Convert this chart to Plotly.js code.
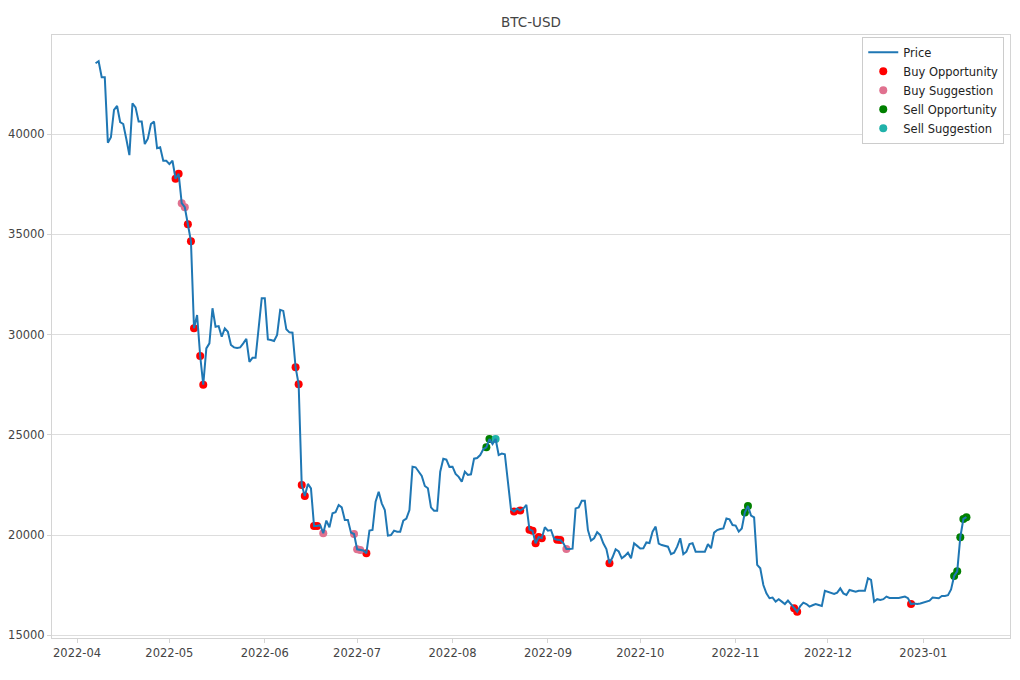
<!DOCTYPE html>
<html>
<head>
<meta charset="utf-8">
<script src="https://cdn.plot.ly/plotly-3.0.1.min.js"></script>
<style>
  html, body { margin: 0; padding: 0; background: #fff; }
  #chart { width: 1020px; height: 680px; }
</style>
</head>
<body>
<div id="chart"></div>
<script>
'use strict';

// daily closes, one value per day starting at startDate
const startDate = '2022-04-07';
const prices = [
  43530, 43630, 42830, 42830, 39570, 39840, 41200, 41400, 40600, 40500,
  39750, 38950, 41530, 41330, 40620, 40620, 39500, 39770, 40500, 40620,
  39290, 39340, 38670, 38670, 38500, 38670, 37770, 38020, 36550, 36350,
  35500, 34650, 30310, 30975, 28930, 27500, 29310, 29560, 31310, 30390,
  30420, 29890, 30310, 30140, 29480, 29360, 29330, 29360, 29560, 29790,
  28640, 28840, 28840, 30310, 31810, 31810, 29760, 29730, 29680, 29980,
  31230, 31180, 30260, 30110, 30090, 28370, 27520, 22500, 21950, 22550,
  22330, 20450, 20450, 20500, 20090, 20720, 20390, 21090, 21140, 21500,
  21380, 20750, 20750, 20120, 20050, 19290, 19250, 19230, 19090, 20220,
  20250, 21660, 22160, 21580, 21250, 19970, 20000, 20220, 20170, 20170,
  20720, 20820, 21250, 23410, 23380, 23160, 22950, 22450, 22330, 21380,
  21210, 21210, 23160, 23800, 23760, 23400, 23410, 23050, 22900, 22660,
  23160, 23000, 23030, 23810, 23840, 23990, 24280, 24380, 24790, 24540,
  24790, 23990, 24060, 24030, 22800, 21280, 21180, 21320, 21220, 21320,
  21500, 20270, 20210, 19590, 19900, 19840, 20390, 20220, 20250, 19820,
  19760, 19750, 19600, 19300, 19300, 19320, 21330, 21380, 21710, 21710,
  20250, 19720, 19840, 20140, 20000, 19590, 19300, 18590, 18890, 19290,
  19180, 18840, 18960, 19120, 18840, 19590, 19460, 19330, 19340, 19630,
  19600, 20170, 20420, 19570, 19500, 19450, 19420, 19050, 19120, 19420,
  19840, 19050, 19170, 19550, 19590, 19170, 19170, 19170, 19170, 19550,
  19340, 20120, 20250, 20300, 20330, 20830, 20780, 20500, 20470, 20170,
  20330, 21130, 21450, 20970, 20880, 18510, 18340, 17510, 17090, 16850,
  16880, 16680, 16800, 16680, 16560, 16730, 16560, 16350, 16180, 16460,
  16630, 16560, 16430, 16500, 16560, 16510, 16460, 17220, 17170, 17090,
  17060, 17130, 17340, 17090, 17010, 17260, 17220, 17170, 17220, 17220,
  17220, 17840, 17760, 16680, 16800, 16760, 16800, 16930, 16860, 16860,
  16860, 16860, 16900, 16930, 16850, 16560, 16590, 16560, 16590, 16650,
  16680, 16730, 16880, 16850, 16850, 16960, 16960, 17000, 17290, 17960,
  18190, 19890, 20800, 20890
];

const buyOpportunity = [
  '2022-05-03', '2022-05-04', '2022-05-07', '2022-05-08', '2022-05-09',
  '2022-05-11', '2022-05-12', '2022-06-11', '2022-06-12', '2022-06-13',
  '2022-06-14', '2022-06-17', '2022-06-18', '2022-07-04', '2022-08-21',
  '2022-08-23', '2022-08-26', '2022-08-27', '2022-08-28', '2022-08-29',
  '2022-08-30', '2022-09-04', '2022-09-05', '2022-09-21', '2022-11-20',
  '2022-11-21', '2022-12-28'
];
const buySuggestion = [
  '2022-05-05', '2022-05-06', '2022-06-20', '2022-06-30', '2022-07-01',
  '2022-07-02', '2022-09-07'
];
const sellOpportunity = [
  '2022-08-12', '2022-08-13', '2022-11-04', '2022-11-05', '2023-01-11',
  '2023-01-12', '2023-01-13', '2023-01-14', '2023-01-15'
];
const sellSuggestion = ['2022-08-15'];

const dates = prices.map((_, i) => {
  const d = new Date(startDate + 'T00:00:00Z');
  d.setUTCDate(d.getUTCDate() + i);
  return d.toISOString().slice(0, 10);
});
const priceOn = day => prices[dates.indexOf(day)];

const markerTrace = (days, name, color, rank) => ({
  x: days,
  y: days.map(priceOn),
  name: name,
  mode: 'markers',
  type: 'scatter',
  legendrank: rank,
  marker: { color: color, size: 8 }
});

const traces = [
  markerTrace(buyOpportunity,  'Buy Opportunity',  '#ff0000', 2),
  markerTrace(buySuggestion,   'Buy Suggestion',   '#e0718f', 3),
  markerTrace(sellOpportunity, 'Sell Opportunity', '#008000', 4),
  markerTrace(sellSuggestion,  'Sell Suggestion',  '#20b2aa', 5),
  {
    x: dates,
    y: prices,
    name: 'Price',
    mode: 'lines',
    type: 'scatter',
    legendrank: 1,
    line: { color: '#1f77b4', width: 2 }
  }
];

const axisGray = '#d4d4d4';

const layout = {
  width: 1020,
  height: 680,
  paper_bgcolor: '#fff',
  plot_bgcolor:  '#fff',
  font: { family: 'DejaVu Sans, sans-serif', size: 11.5, color: '#444' },
  margin: { l: 52, r: 10, t: 35, b: 42 },
  title: {
    text: 'BTC-USD',
    font: { size: 13.5, color: '#444' },
    x: 0.5, xref: 'paper',
    y: 1 - 22 / 680, yref: 'container', yanchor: 'middle'
  },
  showlegend: true,
  legend: {
    x: 0.994, xanchor: 'right',
    y: 0.997, yanchor: 'top',
    bgcolor: '#fff',
    bordercolor: '#cccccc',
    borderwidth: 1,
    font: { size: 11.5, color: '#222' }
  },
  xaxis: {
    type: 'date',
    range: ['2022-03-23 20:24', '2023-01-29 03:36'],
    tick0: '2022-04-01',
    dtick: 'M1',
    tickformat: '%Y-%m',
    showgrid: false,
    zeroline: false,
    showline: true, mirror: true, linecolor: axisGray, linewidth: 1,
    ticks: 'outside', ticklen: 4, tickcolor: axisGray
  },
  yaxis: {
    range: [14865, 44940],
    dtick: 5000,
    tick0: 0,
    tickformat: 'd',
    showgrid: true, gridcolor: '#dddddd', gridwidth: 1,
    zeroline: false,
    showline: true, mirror: true, linecolor: axisGray, linewidth: 1,
    ticks: 'outside', ticklen: 4, tickcolor: axisGray
  }
};

Plotly.newPlot('chart', traces, layout, { displayModeBar: false, staticPlot: true });
</script>
</body>
</html>
